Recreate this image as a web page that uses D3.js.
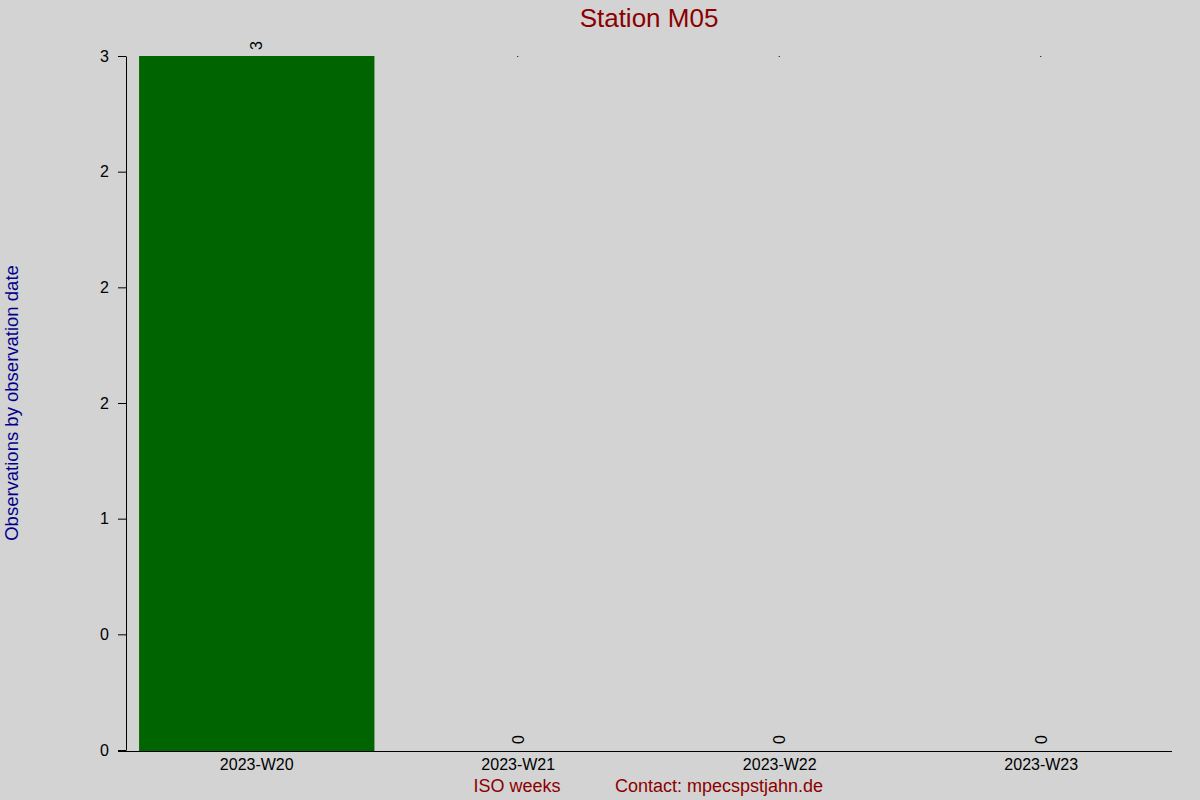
<!DOCTYPE html>
<html>
<head>
<meta charset="utf-8">
<script src="https://cdn.jsdelivr.net/npm/d3@7"></script>
<style>
  html, body { margin: 0; padding: 0; background: #d3d3d3; }
  svg { display: block; font-family: "Liberation Sans", Arial, sans-serif; }
</style>
</head>
<body>
<div id="chart"></div>
<script>
// Chart data
const weeks = ["2023-W20", "2023-W21", "2023-W22", "2023-W23"];
const counts = [3, 0, 0, 0];
const yTickValues = [0, 0.5, 1, 1.5, 2, 2.5, 3];
const yTickLabels = ["0", "0", "1", "2", "2", "2", "3"];

const W = 1200, H = 800;
const margin = { top: 56, right: 28, bottom: 50, left: 126 };

const svg = d3.select("#chart")
  .append("svg")
  .attr("width", W)
  .attr("height", H);

svg.append("rect")
  .attr("width", W)
  .attr("height", H)
  .attr("fill", "#d3d3d3");

const x = d3.scaleBand()
  .domain(weeks)
  .range([margin.left, W - margin.right])
  .paddingInner(0.1)
  .paddingOuter(0.05);

const y = d3.scaleLinear()
  .domain([0, 3])
  .range([H - margin.bottom, margin.top]);

// bars (only non-empty weeks get a visible bar)
svg.selectAll(".bar")
  .data(weeks.filter((d, i) => counts[i] > 0))
  .enter().append("rect")
  .attr("class", "bar")
  .attr("x", d => x(d))
  .attr("y", d => y(counts[weeks.indexOf(d)]))
  .attr("width", x.bandwidth())
  .attr("height", d => y(0) - y(counts[weeks.indexOf(d)]) + 1)
  .attr("fill", "#006400");

// tiny markers at the top for empty weeks
svg.selectAll(".dot")
  .data(weeks.filter((d, i) => counts[i] === 0))
  .enter().append("rect")
  .attr("x", d => x(d) + x.bandwidth() / 2 - 1)
  .attr("y", y(3))
  .attr("width", 1)
  .attr("height", 1)
  .attr("fill", "#000");

// value labels (rotated)
svg.selectAll(".val")
  .data(weeks)
  .enter().append("text")
  .attr("class", "val")
  .attr("transform", (d, i) => `translate(${x(d) + x.bandwidth() / 2},${y(counts[i]) - 6}) rotate(-90)`)
  .attr("dy", "0.35em")
  .attr("font-size", 16)
  .attr("fill", "#000")
  .text((d, i) => counts[i]);

// y axis
const yAxis = svg.append("g")
  .attr("transform", `translate(${margin.left},0)`)
  .call(d3.axisLeft(y)
    .tickValues(yTickValues)
    .tickFormat((d, i) => yTickLabels[i])
    .tickSize(8)
    .tickPadding(9)
    .tickSizeOuter(0));
yAxis.selectAll("text").attr("font-size", 16).attr("fill", "#000");
yAxis.selectAll("line, path").attr("stroke", "#000");

// x axis
const xAxis = svg.append("g")
  .attr("transform", `translate(0,${y(0) + 1})`)
  .call(d3.axisBottom(x).tickSize(0).tickPadding(8).tickSizeOuter(0));
xAxis.select("path").attr("d", `M${margin.left - 8},0.5H${W - margin.right}`).attr("stroke", "#000");
xAxis.selectAll("text").attr("font-size", 16).attr("fill", "#000");

// title
svg.append("text")
  .attr("x", (margin.left + W - margin.right) / 2)
  .attr("y", 27)
  .attr("text-anchor", "middle")
  .attr("font-size", 26)
  .attr("fill", "#8b0000")
  .text("Station M05");

// y label
svg.append("text")
  .attr("transform", `translate(18,403) rotate(-90)`)
  .attr("text-anchor", "middle")
  .attr("font-size", 18.5)
  .attr("fill", "#00008b")
  .text("Observations by observation date");

// footer labels
svg.append("text")
  .attr("x", 517)
  .attr("y", 792)
  .attr("text-anchor", "middle")
  .attr("font-size", 18)
  .attr("fill", "#8b0000")
  .text("ISO weeks");

svg.append("text")
  .attr("x", 719)
  .attr("y", 792)
  .attr("text-anchor", "middle")
  .attr("font-size", 18)
  .attr("fill", "#8b0000")
  .text("Contact: mpecspstjahn.de");
</script>
</body>
</html>
